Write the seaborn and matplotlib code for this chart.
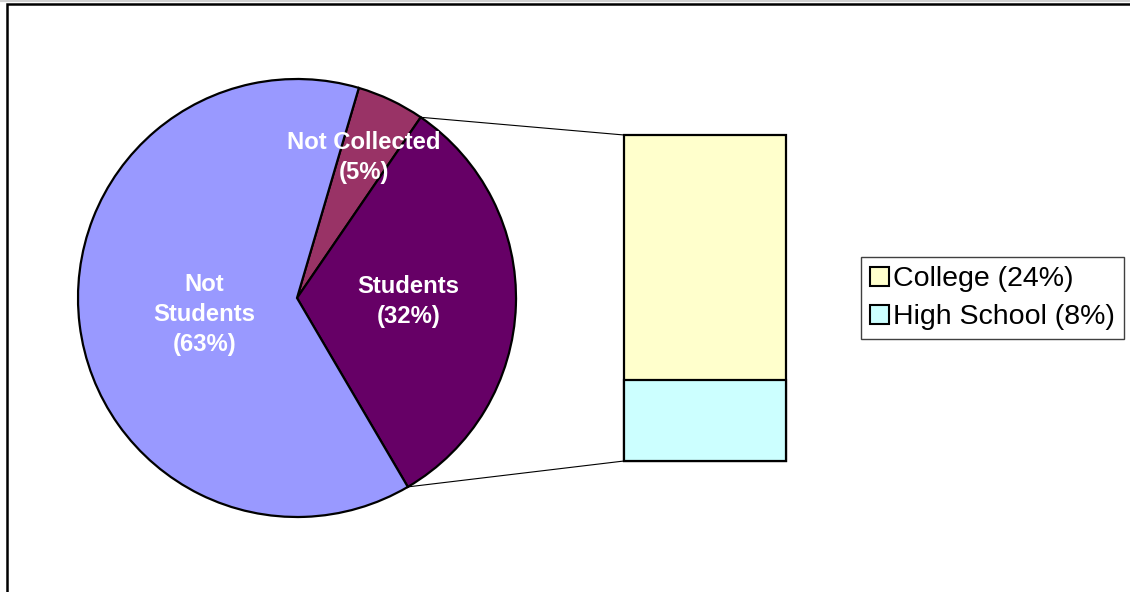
import matplotlib
matplotlib.use("Agg")
import matplotlib.pyplot as plt
from matplotlib.patches import Patch, Rectangle
from matplotlib.lines import Line2D
from matplotlib.patches import ConnectionPatch
import numpy as np
import seaborn as sns

sns.set_theme(style="white")
plt.rcParams["font.family"] = ["Liberation Sans", "DejaVu Sans"]
plt.rcParams["text.color"] = "black"

# Pie data (clockwise from the top)
pie_labels = ["Not Collected", "Students", "Not\nStudents"]
pie_values = [5, 32, 63]
pie_colors = ["#993366", "#660066", "#9999FF"]

# Breakdown of the "Students" slice
sub_labels = ["College", "High School"]
sub_values = [24, 8]
sub_colors = ["#FFFFCC", "#CCFFFF"]

W, H = 1130, 592
fig = plt.figure(figsize=(W / 100, H / 100), dpi=100)
fig.patch.set_facecolor("white")

# Main axes in pixel-like units
ax = fig.add_axes([0, 0, 1, 1])

cx, cy, r = 297, H - 298, 219
wedges, _ = ax.pie(
    pie_values, colors=pie_colors, startangle=73.6, counterclock=False,
    center=(cx, cy), radius=r, frame=True,
    wedgeprops=dict(edgecolor="black", linewidth=1.6),
)
ax.set_xlim(0, W)
ax.set_ylim(0, H)
ax.set_aspect("equal")
ax.axis("off")

# Slice labels: (distance from centre as fraction of radius, extra angle in degrees)
label_pos = [(0.71, 0.0), (0.51, 0.0), (0.43, 3.0)]
for w, lab, val, (d, da) in zip(wedges, pie_labels, pie_values, label_pos):
    mid = np.deg2rad((w.theta1 + w.theta2) / 2 + da)
    ax.text(cx + r * d * np.cos(mid), cy + r * d * np.sin(mid),
            f"{lab}\n({val}%)", ha="center", va="center", color="white",
            fontsize=17.2, fontweight="bold", linespacing=1.4)

# Stacked bar for the student breakdown
bx0, bx1, by_top, by_bot = 624, 786, 135, 461
ax_bar = fig.add_axes([bx0 / W, 1 - by_bot / H, (bx1 - bx0) / W, (by_bot - by_top) / H])
total = sum(sub_values)
sns.barplot(x=["Students"], y=[total], color=sub_colors[0], saturation=1,
            width=1, edgecolor="black", linewidth=1.6, ax=ax_bar)
sns.barplot(x=["Students"], y=[sub_values[1]], color=sub_colors[1], saturation=1,
            width=1, edgecolor="black", linewidth=1.6, ax=ax_bar)
for p in ax_bar.patches:
    p.set_clip_on(False)
ax_bar.set_xlim(-0.5, 0.5)
ax_bar.set_ylim(0, total)
ax_bar.axis("off")

# Connector lines from the Students slice to the bar
stud = wedges[1]
for ang, yb in [(stud.theta2, total), (stud.theta1, 0)]:
    a = np.deg2rad(ang)
    con = ConnectionPatch(xyA=(cx + r * np.cos(a), cy + r * np.sin(a)), coordsA=ax.transData,
                          xyB=(-0.5, yb), coordsB=ax_bar.transData,
                          color="black", linewidth=0.8)
    fig.add_artist(con)

# Legend
handles = [Patch(facecolor=c, edgecolor="black", linewidth=1.5, label=f"{l} ({v}%)")
           for l, v, c in zip(sub_labels, sub_values, sub_colors)]
leg = fig.legend(handles=handles, loc="upper left",
                 bbox_to_anchor=(861 / W, 1 - 257 / H), fontsize=20.5,
                 handlelength=0.65, handleheight=0.65, handletextpad=0.15,
                 borderpad=0.32, labelspacing=0.42, borderaxespad=0,
                 fancybox=False, framealpha=1, edgecolor="#404040")
leg.get_frame().set_linewidth(1.0)
for t in leg.get_texts():
    t.set_color("black")

# Chart area border
fig.add_artist(Rectangle((7 / W, -0.1), 1.2, 1 - 4 / H + 0.1, transform=fig.transFigure,
                         fill=False, edgecolor="black", linewidth=1.8))
fig.add_artist(Line2D([0, 1], [1 - 1 / H, 1 - 1 / H], transform=fig.transFigure,
                      color="#d0d0d0", linewidth=1.5))

fig.savefig("out.png", dpi=100, facecolor="white")
